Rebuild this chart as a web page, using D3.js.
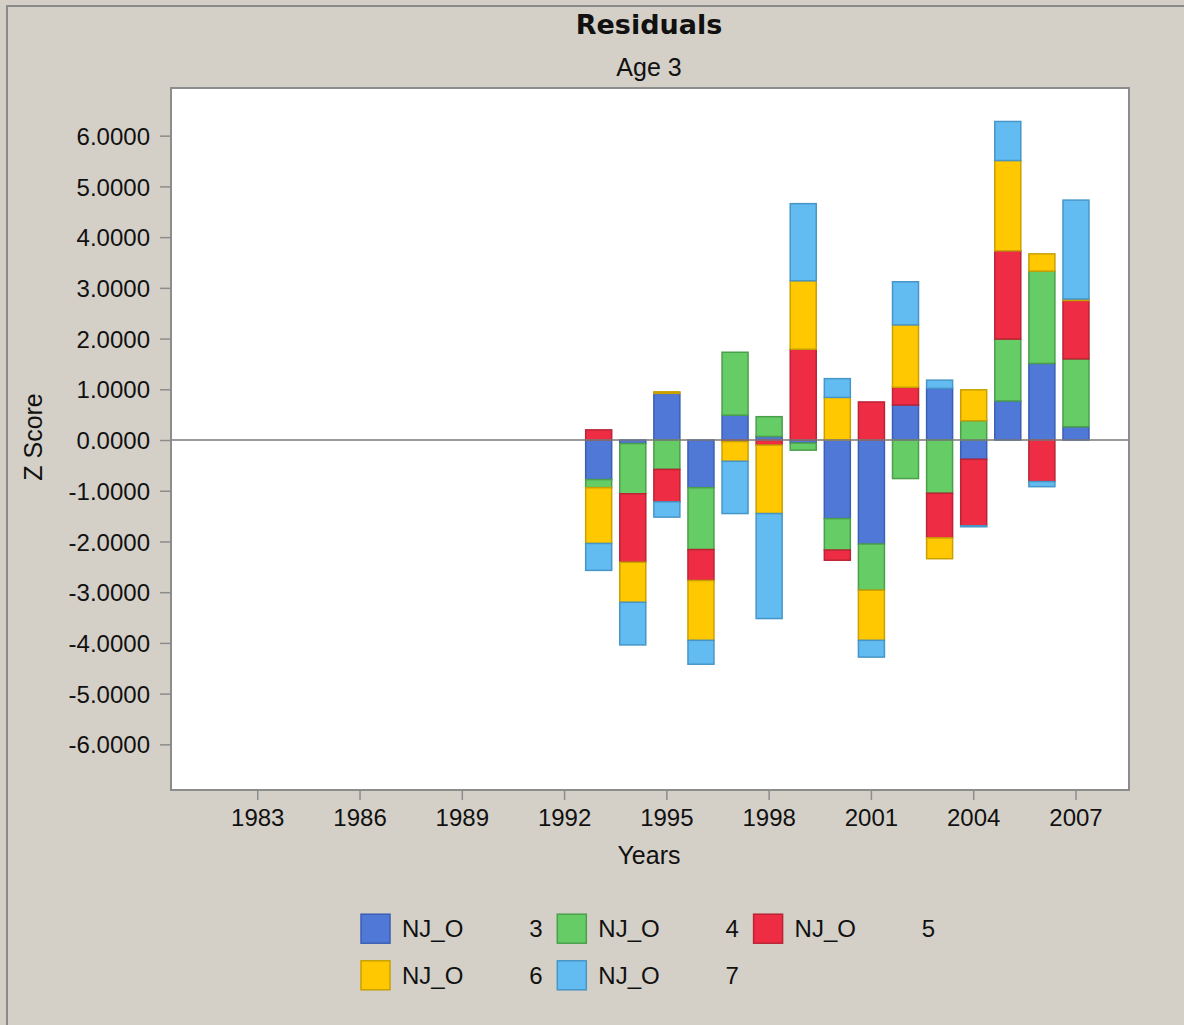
<!DOCTYPE html>
<html>
<head>
<meta charset="utf-8">
<script src="https://cdn.jsdelivr.net/npm/d3@7"></script>
<style>
	body { margin: 0; background: #d4d0c8; }
	text { font-family: "Liberation Sans", Arial, sans-serif; fill: #111; }
</style>
</head>
<body>
<svg id="chart" width="1184" height="1025"></svg>
<script>
// values
const years = [1993, 1994, 1995, 1996, 1997, 1998, 1999, 2000, 2001, 2002, 2003, 2004, 2005, 2006, 2007]
const age3 = [-0.78, -0.07, 0.92, -0.94, 0.49, 0.07, -0.06, -1.55, -2.05, 0.69, 1.02, -0.38, 0.77, 1.51, 0.26]
const age4 = [-0.16, -0.99, -0.58, -1.22, 1.24, 0.39, -0.14, -0.62, -0.91, -0.76, -1.05, 0.38, 1.22, 1.82, 1.34]
const age5 = [0.20, -1.35, -0.64, -0.61, -0.03, -0.10, 1.79, -0.20, 0.75, 0.35, -0.88, -1.31, 1.74, -0.82, 1.15]
const age6 = [-1.10, -0.79, 0.03, -1.18, -0.39, -1.35, 1.35, 0.84, -0.99, 1.23, -0.41, 0.61, 1.78, 0.34, 0.03]
const age7 = [-0.53, -0.84, -0.30, -0.47, -1.03, -2.07, 1.52, 0.37, -0.33, 0.85, 0.16, -0.02, 0.77, -0.10, 1.95]

const seriesNames = ['NJ_O 3', 'NJ_O 4', 'NJ_O 5', 'NJ_O 6', 'NJ_O 7']
const seriesValues = [age3, age4, age5, age6, age7]
const fills = ['#5079d7', '#66cc66', '#ee2d44', '#ffc800', '#62bcf2']
const strokes = ['#3b5fb4', '#4b9f4b', '#bb2336', '#c9a000', '#4796c8']

const xTicks = [1983, 1986, 1989, 1992, 1995, 1998, 2001, 2004, 2007]
const yTicks = [-6, -5, -4, -3, -2, -1, 0, 1, 2, 3, 4, 5, 6]

const plot = { left: 171, right: 1129, top: 88, bottom: 790 }

const svg = d3.select('#chart')

// outer panel edge (top + left only visible)
svg.append('path')
	.attr('d', 'M7,1025V6H1184')
	.attr('fill', 'none')
	.attr('stroke', '#8a8a8a')
	.attr('stroke-width', 2)

svg.append('rect')
	.attr('x', plot.left)
	.attr('y', plot.top)
	.attr('width', plot.right - plot.left)
	.attr('height', plot.bottom - plot.top)
	.attr('fill', '#ffffff')

const x = d3.scaleLinear().domain([1980.47, 2008.57]).range([plot.left, plot.right])
const y = d3.scaleLinear().domain([-6.9, 6.94]).range([plot.bottom, plot.top])
const barW = 26

// table for the stack
const table = years.map((yr, i) => {
	const row = { year: yr }
	seriesNames.forEach((n, k) => { row[n] = seriesValues[k][i] })
	return row
})
const stacked = d3.stack()
	.keys(seriesNames)
	.offset(d3.stackOffsetDiverging)(table)

svg.append('g')
	.selectAll('g')
	.data(stacked)
	.join('g')
	.attr('fill', (d, i) => fills[i])
	.attr('stroke', (d, i) => strokes[i])
	.attr('stroke-width', 1.5)
	.selectAll('rect')
	.data(d => d)
	.join('rect')
	.attr('x', d => x(d.data.year) - barW / 2 + 0.5)
	.attr('y', d => y(Math.max(d[0], d[1])))
	.attr('width', barW)
	.attr('height', d => Math.abs(y(d[0]) - y(d[1])))

// zero line
svg.append('line')
	.attr('x1', plot.left).attr('x2', plot.right)
	.attr('y1', y(0)).attr('y2', y(0))
	.attr('stroke', '#7a7a7a')
	.attr('stroke-width', 1.5)

// frame
svg.append('rect')
	.attr('x', plot.left)
	.attr('y', plot.top)
	.attr('width', plot.right - plot.left)
	.attr('height', plot.bottom - plot.top)
	.attr('fill', 'none')
	.attr('stroke', '#8c8c8c')
	.attr('stroke-width', 2)

// axes
const fmt4 = d3.format('.4f')
const yAxis = svg.append('g')
	.attr('transform', `translate(${plot.left},0)`)
	.call(d3.axisLeft(y).tickValues(yTicks)
		.tickFormat(d => fmt4(d).replace('\u2212', '-'))
		.tickSize(11).tickPadding(10))
const xAxis = svg.append('g')
	.attr('transform', `translate(0,${plot.bottom})`)
	.call(d3.axisBottom(x).tickValues(xTicks).tickFormat(d3.format('d')).tickSize(10).tickPadding(9))

;[yAxis, xAxis].forEach(ax => {
	ax.select('.domain').remove()
	ax.selectAll('line').attr('stroke', '#8c8c8c').attr('stroke-width', 1.5)
	ax.selectAll('text')
		.attr('font-family', '"Liberation Sans", Arial, sans-serif')
		.attr('font-size', 24)
		.attr('fill', '#111')
})
yAxis.selectAll('text').attr('dy', '0.36em')

// titles
svg.append('text')
	.attr('x', 649).attr('y', 34)
	.attr('text-anchor', 'middle')
	.style('font-family', '"DejaVu Sans", sans-serif')
	.style('font-weight', 'bold')
	.style('font-size', '27px')
	.text('Residuals')

svg.append('text')
	.attr('x', 649).attr('y', 76)
	.attr('text-anchor', 'middle')
	.style('font-size', '25px')
	.text('Age 3')

svg.append('text')
	.attr('x', 649).attr('y', 864)
	.attr('text-anchor', 'middle')
	.style('font-size', '25px')
	.text('Years')

svg.append('text')
	.attr('transform', 'translate(42,437) rotate(-90)')
	.attr('text-anchor', 'middle')
	.style('font-size', '25px')
	.text('Z Score')

// legend, 3 per row
const legend = svg.append('g')
const items = legend.selectAll('g')
	.data(seriesNames)
	.join('g')
	.attr('transform', (d, i) => `translate(${361 + (i % 3) * 196.3},${928.7 + Math.floor(i / 3) * 46.6})`)

items.append('rect')
	.attr('x', 0).attr('y', -14.5)
	.attr('width', 29).attr('height', 29)
	.attr('fill', (d, i) => fills[i])
	.attr('stroke', (d, i) => strokes[i])
	.attr('stroke-width', 1.5)

items.append('text')
	.attr('x', 41).attr('dy', '0.36em')
	.style('font-size', '24px')
	.text(d => d.split(' ')[0])

items.append('text')
	.attr('x', 181.5).attr('dy', '0.36em')
	.attr('text-anchor', 'end')
	.style('font-size', '24px')
	.text(d => d.split(' ')[1])
</script>
</body>
</html>
